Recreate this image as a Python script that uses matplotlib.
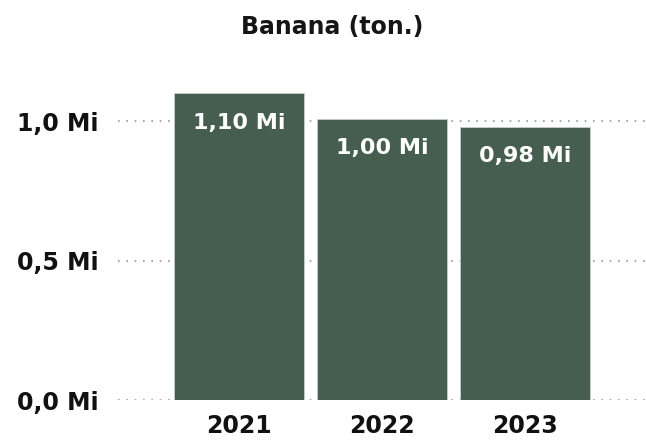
import matplotlib
matplotlib.use("Agg")
import matplotlib.pyplot as plt

years = ["2021", "2022", "2023"]
values = [1.10, 1.01, 0.98]          # millions of tons
labels = ["1,10 Mi", "1,00 Mi", "0,98 Mi"]
yticks = [0.0, 0.5, 1.0]
ytick_labels = ["0,0 Mi", "0,5 Mi", "1,0 Mi"]

plt.rcParams["font.family"] = ["DejaVu Sans"]
plt.rcParams["font.weight"] = "bold"

fig = plt.figure(figsize=(6.46, 4.41), dpi=100)
ax = fig.add_axes([118 / 646, 41 / 441, 528 / 646, 340 / 441])

x = range(len(years))
ax.bar(x, values, width=0.91, color="#465e4f", edgecolor="#c8cfca",
       linewidth=0.6, zorder=2)

for xi, v, lab in zip(x, values, labels):
    ax.annotate(lab, (xi, v), xytext=(0, -21), textcoords="offset points",
                ha="center", va="center", color="white", fontsize=16,
                fontweight="bold", zorder=3)

ax.set_xlim(-0.85, 2.85)
ax.set_ylim(0, 1.22)
ax.set_yticks(yticks)
ax.set_yticklabels(ytick_labels)
ax.set_xticks(list(x))
ax.set_xticklabels(years)
ax.tick_params(axis="both", length=0, labelsize=17, labelcolor="#111111")
ax.tick_params(axis="y", pad=14)
ax.tick_params(axis="x", pad=10)

ax.grid(axis="y", color="#a8a8a8", linestyle=(0, (0.8, 3.2)), linewidth=1.5,
        zorder=1)
ax.set_axisbelow(True)
for s in ax.spines.values():
    s.set_visible(False)

fig.text(332 / 646, 1 - 27 / 441, "Banana (ton.)", ha="center", va="center",
         fontsize=17, fontweight="bold", color="#151515")

fig.savefig("out.png", dpi=100)
